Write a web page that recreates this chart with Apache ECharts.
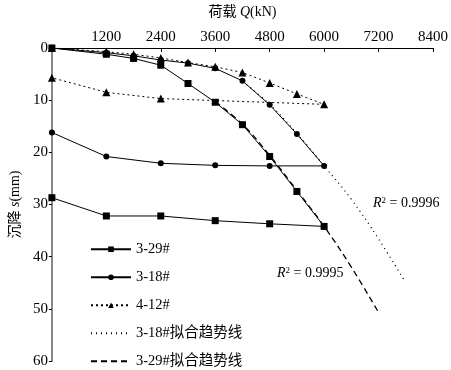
<!DOCTYPE html>
<html><head><meta charset="utf-8">
<script src="https://cdn.jsdelivr.net/npm/echarts@6/dist/echarts.min.js"></script>
<style>html,body{margin:0;padding:0;background:#fff}#c{width:451px;height:370px}</style>
</head><body><div id="c"></div>
<script>
// Data (load Q in kN, settlement s in mm); loading then unloading
const q329 = [0,1200,1800,2400,3000,3600,4200,4800,5400,6000, 4800,3600,2400,1200,0];
const s329 = [0,1.2,2.0,3.3,6.8,10.4,14.7,20.8,27.5,34.2, 33.7,33.1,32.2,32.2,28.7];
const q318 = [0,1200,1800,2400,3000,3600,4200,4800,5400,6000, 4800,3600,2400,1200,0];
const s318 = [0,0.9,1.5,2.3,2.9,3.9,6.3,10.9,16.5,22.6, 22.6,22.5,22.1,20.8,16.2];
const q412 = [0,1200,1800,2400,3000,3600,4200,4800,5400,6000, 2400,1200,0];
const s412 = [0,0.7,1.2,1.9,2.8,3.6,4.7,6.7,8.8,10.8, 9.7,8.5,5.7];
const qFit318 = [4200,4800,5400,6000,6600,7200,7750];
const sFit318 = [6.4,10.8,16.4,22.6,29.0,36.6,44.3];
const qFit329 = [3600,4200,4800,5400,6000,6600,7200];
const sFit329 = [10.3,14.6,20.6,27.3,34.2,42.0,50.7];
const xTicks = [0,1200,2400,3600,4800,6000,7200,8400];
const yTicks = [0,10,20,30,40,50,60];
const names = ['3-29#','3-18#','4-12#','3-18#拟合趋势线','3-29#拟合趋势线'];
const r2 = ['0.9996','0.9995'];

const zip = (a,b)=>a.map((v,i)=>[v,b[i]]);
const SERIF = 'Liberation Serif, Noto Sans CJK SC, serif';
const chart = echarts.init(document.getElementById('c'), null, {renderer:'canvas'});
const base = {type:'line', animation:false, showSymbol:true, z:3};
const hidden = {color:'rgba(0,0,0,0)', borderColor:'rgba(0,0,0,0)', borderWidth:0};
const rich = {a:{fontFamily:SERIF,fontSize:14,color:'#000'},i:{fontFamily:SERIF,fontSize:14,fontStyle:'italic',color:'#000'}};
chart.setOption({
  animation:false,
  backgroundColor:'#fff',
  textStyle:{fontFamily:SERIF, color:'#000'},
  grid:{left:43, right:18, top:37, bottom:9, containLabel:false},
  xAxis:{type:'value', position:'top', min:xTicks[0], max:xTicks[xTicks.length-1], interval:1200,
    name:'{a|荷载 }{i|Q}{a|(kN)}', nameLocation:'middle', nameGap:29,
    nameTextStyle:{fontFamily:SERIF, rich:rich},
    axisLine:{show:true, onZero:false, lineStyle:{color:'#000', width:1}},
    axisTick:{show:true, inside:true, length:4, lineStyle:{color:'#000'}},
    axisLabel:{fontFamily:SERIF, fontSize:15, color:'#000', margin:3,
      formatter:v=> (v===0?'':String(v))},
    splitLine:{show:false}},
  yAxis:{type:'value', inverse:true, min:yTicks[0], max:yTicks[yTicks.length-1], interval:10,
    name:'{a|沉降 }{i|s}{a|(mm)}', nameLocation:'middle', nameGap:27, nameRotate:90,
    nameTextStyle:{fontFamily:SERIF, rich:rich},
    axisLine:{show:true, onZero:false, lineStyle:{color:'#888', width:2}},
    axisTick:{show:true, inside:false, length:3, lineStyle:{color:'#000'}},
    axisLabel:{fontFamily:SERIF, fontSize:15, color:'#000', margin:4},
    splitLine:{show:false}},
  legend:{orient:'vertical', left:90, top:242, padding:0, itemWidth:40, itemHeight:7, itemGap:13.5,
    height:140,
    data:[names[0],names[1],names[2],{name:names[3],itemStyle:hidden},{name:names[4],itemStyle:hidden}],
    textStyle:{fontFamily:SERIF, fontSize:14.5, color:'#000', lineHeight:14}, selectedMode:false},
  series:[
    Object.assign({},base,{name:names[2], data:zip(q412,s412), symbol:'triangle', symbolSize:8,
      lineStyle:{color:'#000', width:1, type:[2,3]}, itemStyle:{color:'#000'}}),
    Object.assign({},base,{name:names[1], data:zip(q318,s318), symbol:'circle', symbolSize:6,
      lineStyle:{color:'#000', width:1}, itemStyle:{color:'#000'}}),
    Object.assign({},base,{name:names[0], data:zip(q329,s329), symbol:'rect', symbolSize:7,
      lineStyle:{color:'#000', width:1}, itemStyle:{color:'#000'}}),
    Object.assign({},base,{name:names[3], data:zip(qFit318,sFit318), symbol:'none', smooth:0.4,
      lineStyle:{color:'#000', width:1.3, type:[1,4]}, itemStyle:{color:'#000'}}),
    Object.assign({},base,{name:names[4], data:zip(qFit329,sFit329), symbol:'none', smooth:0.4,
      lineStyle:{color:'#000', width:1.3, type:[6,4]}, itemStyle:{color:'#000'}})
  ],
  graphic:[
    {type:'text', left:373, top:196, style:{text:'{i|R}{s|2}{a| = '+r2[0]+'}', rich:{
      i:{fontFamily:SERIF,fontSize:14,fontStyle:'italic',fill:'#000'},
      s:{fontFamily:SERIF,fontSize:9,fill:'#000',verticalAlign:'top',padding:[0,0,6,0]},
      a:{fontFamily:SERIF,fontSize:14,fill:'#000'}}}},
    {type:'text', left:277, top:266, style:{text:'{i|R}{s|2}{a| = '+r2[1]+'}', rich:{
      i:{fontFamily:SERIF,fontSize:14,fontStyle:'italic',fill:'#000'},
      s:{fontFamily:SERIF,fontSize:9,fill:'#000',verticalAlign:'top',padding:[0,0,6,0]},
      a:{fontFamily:SERIF,fontSize:14,fill:'#000'}}}}
  ]
});
</script></body></html>
